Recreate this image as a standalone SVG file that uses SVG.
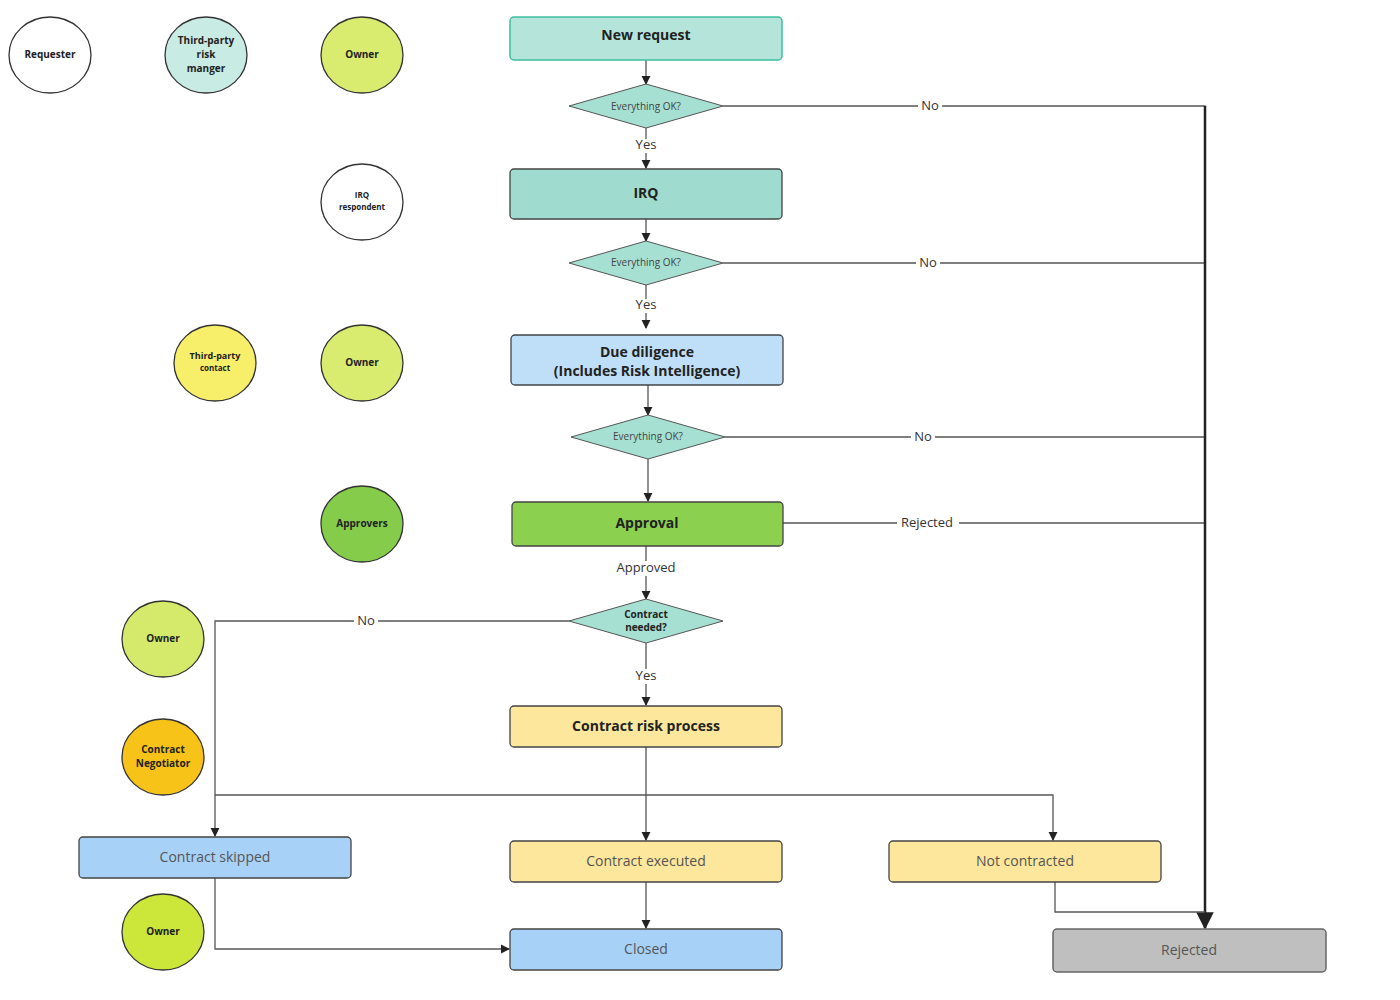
<svg xmlns="http://www.w3.org/2000/svg" width="1400" height="1000" viewBox="0 0 1400 1000">
<defs>
<marker id="a" viewBox="0 0 10 10" refX="9" refY="5" markerWidth="7" markerHeight="7" orient="auto"><path d="M0,0L10,5L0,10z" fill="#222"/></marker>
<style>
text{font-family:"Open Sans","Noto Sans",sans-serif;text-anchor:middle;dominant-baseline:middle;fill:#222}
.c{stroke:#333;stroke-width:1.3}
.b{stroke:#444;stroke-width:1.3}
.t{font-size:10px;font-weight:bold}
.bt{font-size:14px;font-weight:bold}
.nt{font-size:14px;fill:#555}
.d{fill:#a6e0d2;stroke:#555;stroke-width:1}
.dt{font-size:10px;fill:#444}
.l{fill:none;stroke:#555;stroke-width:1.3}
.lt{font-size:13px;fill:#333}
</style>
</defs>
<g id="circles">
<g id="c1"><ellipse cx="50" cy="55" rx="41" ry="38" fill="#fff" class="c"/><text x="50" y="55" class="t">Requester</text></g>
<g id="c2"><ellipse cx="206" cy="55" rx="41" ry="38" fill="#c8ebe3" class="c"/><text x="206" y="41" class="t">Third-party</text><text x="206" y="55" class="t">risk</text><text x="206" y="69" class="t">manger</text></g>
<g id="c3"><ellipse cx="362" cy="55" rx="41" ry="38" fill="#d9ec6f" class="c"/><text x="362" y="55" class="t">Owner</text></g>
<g id="c4"><ellipse cx="362" cy="202" rx="41" ry="38" fill="#fff" class="c"/><text x="362" y="196" style="font-size:8px;font-weight:bold">IRQ</text><text x="362" y="208" style="font-size:8px;font-weight:bold">respondent</text></g>
<g id="c5"><ellipse cx="215" cy="363" rx="41" ry="38" fill="#f7ef6a" class="c"/><text x="215" y="357" style="font-size:9px;font-weight:bold">Third-party</text><text x="215" y="369" style="font-size:8px;font-weight:bold">contact</text></g>
<g id="c6"><ellipse cx="362" cy="363" rx="41" ry="38" fill="#d9ec6f" class="c"/><text x="362" y="363" class="t">Owner</text></g>
<g id="c7"><ellipse cx="362" cy="524" rx="41" ry="38" fill="#86cc4b" class="c"/><text x="362" y="524" class="t">Approvers</text></g>
<g id="c8"><ellipse cx="163" cy="639" rx="41" ry="38" fill="#d5ea6b" class="c"/><text x="163" y="639" class="t">Owner</text></g>
<g id="c9"><ellipse cx="163" cy="757" rx="41" ry="38" fill="#f7c318" class="c"/><text x="163" y="750" class="t">Contract</text><text x="163" y="764" class="t">Negotiator</text></g>
<g id="c10"><ellipse cx="163" cy="932" rx="41" ry="38" fill="#cde63a" class="c"/><text x="163" y="932" class="t">Owner</text></g>
</g>
<g id="connectors">
<path class="l" d="M646,60V84" marker-end="url(#a)"/>
<path class="l" d="M646,128V168" marker-end="url(#a)"/>
<path class="l" d="M646,219V241" marker-end="url(#a)"/>
<path class="l" d="M646,285V328" marker-end="url(#a)"/>
<path class="l" d="M648,385V415" marker-end="url(#a)"/>
<path class="l" d="M648,459V501" marker-end="url(#a)"/>
<path class="l" d="M646,546V599" marker-end="url(#a)"/>
<path class="l" d="M646,643V705" marker-end="url(#a)"/>
<path class="l" d="M723,106H1205V523"/>
<path class="l" d="M723,263H1205"/>
<path class="l" d="M725,437H1205"/>
<path class="l" d="M783,523H1205"/>
<path d="M1205,106V928" fill="none" stroke="#222" stroke-width="2.5" marker-end="url(#a)"/>
<path class="l" d="M569,621H215V836" marker-end="url(#a)"/>
<path class="l" d="M646,747V840" marker-end="url(#a)"/>
<path class="l" d="M215,795H1053V840" marker-end="url(#a)"/>
<path class="l" d="M215,878V949H509" marker-end="url(#a)"/>
<path class="l" d="M646,882V928" marker-end="url(#a)"/>
<path class="l" d="M1055,882V912H1205"/>
<g>
<rect x="638" y="139" width="16" height="14" fill="#fff"/><text x="646" y="146" class="lt">Yes</text>
<rect x="638" y="299" width="16" height="14" fill="#fff"/><text x="646" y="306" class="lt">Yes</text>
<rect x="610" y="561" width="72" height="15" fill="#fff"/><text x="646" y="569" class="lt">Approved</text>
<rect x="633" y="669" width="26" height="15" fill="#fff"/><text x="646" y="677" class="lt">Yes</text>
<rect x="918" y="99" width="24" height="15" fill="#fff"/><text x="930" y="107" class="lt">No</text>
<rect x="916" y="256" width="24" height="15" fill="#fff"/><text x="928" y="264" class="lt">No</text>
<rect x="911" y="430" width="24" height="15" fill="#fff"/><text x="923" y="438" class="lt">No</text>
<rect x="897" y="516" width="62" height="15" fill="#fff"/><text x="927" y="524" class="lt">Rejected</text>
<rect x="354" y="614" width="24" height="15" fill="#fff"/><text x="366" y="622" class="lt">No</text>
</g>
</g>
<g id="nodes">
<g id="n1"><rect x="510" y="17" width="272" height="43" rx="4" fill="#b5e5da" stroke="#3dbf9f" stroke-width="1.5"/><text x="646" y="36" class="bt">New request</text></g>
<g id="d1"><polygon points="569,106 646,84 723,106 646,128" class="d"/><text x="646" y="107" class="dt">Everything OK?</text></g>
<g id="n2"><rect x="510" y="169" width="272" height="50" rx="4" fill="#9fdccf" class="b"/><text x="646" y="194" class="bt">IRQ</text></g>
<g id="d2"><polygon points="569,263 646,241 723,263 646,285" class="d"/><text x="646" y="263" class="dt">Everything OK?</text></g>
<g id="n3"><rect x="511" y="335" width="272" height="50" rx="4" fill="#bfdff8" class="b"/><text x="647" y="353" class="bt">Due diligence</text><text x="647" y="372" class="bt">(Includes Risk Intelligence)</text></g>
<g id="d3"><polygon points="571,437 648,415 725,437 648,459" class="d"/><text x="648" y="437" class="dt">Everything OK?</text></g>
<g id="n4"><rect x="512" y="502" width="271" height="44" rx="4" fill="#8bd14f" class="b"/><text x="647" y="524" class="bt">Approval</text></g>
<g id="d4"><polygon points="569,621 646,599 723,621 646,643" class="d"/><text x="646" y="615" class="t">Contract</text><text x="646" y="628" class="t">needed?</text></g>
<g id="n5"><rect x="510" y="706" width="272" height="41" rx="4" fill="#fde79c" class="b"/><text x="646" y="727" class="bt">Contract risk process</text></g>
<g id="n6"><rect x="79" y="837" width="272" height="41" rx="4" fill="#a8d1f7" class="b"/><text x="215" y="858" class="nt">Contract skipped</text></g>
<g id="n7"><rect x="510" y="841" width="272" height="41" rx="4" fill="#fde79c" class="b"/><text x="646" y="862" class="nt">Contract executed</text></g>
<g id="n8"><rect x="889" y="841" width="272" height="41" rx="4" fill="#fde79c" class="b"/><text x="1025" y="862" class="nt">Not contracted</text></g>
<g id="n9"><rect x="510" y="929" width="272" height="41" rx="4" fill="#a8d1f7" class="b"/><text x="646" y="950" class="nt">Closed</text></g>
<g id="n10"><rect x="1053" y="929" width="273" height="43" rx="4" fill="#bfbfbf" stroke="#666" stroke-width="1.5"/><text x="1189" y="951" class="nt">Rejected</text></g>
</g>
</svg>
